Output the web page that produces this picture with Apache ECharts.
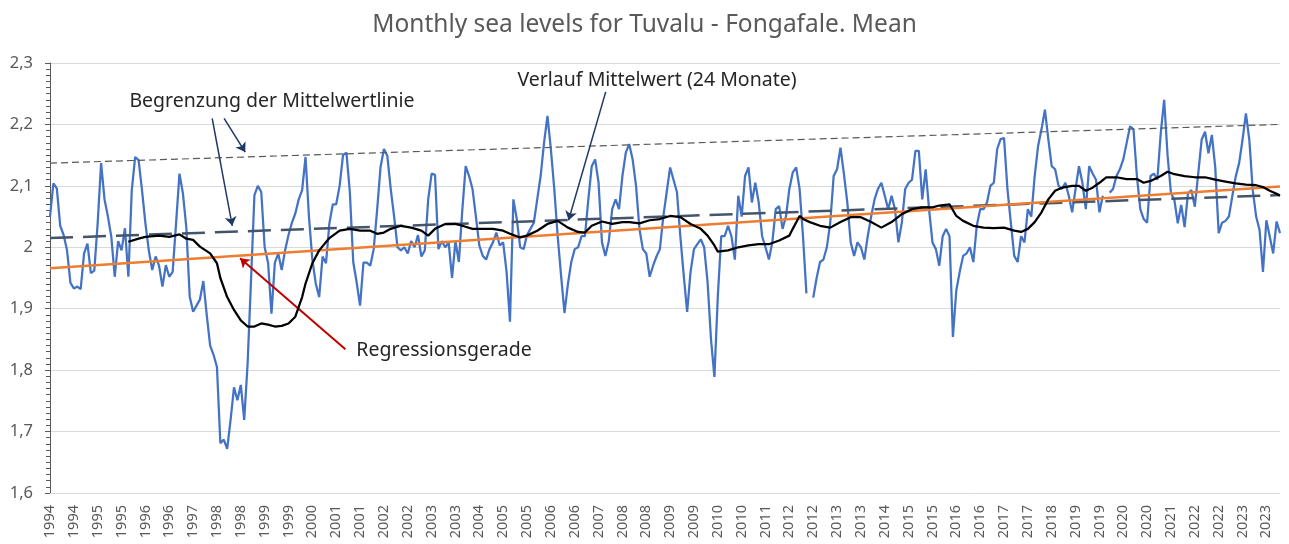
<!DOCTYPE html>
<html>
<head>
<meta charset="utf-8">
<title>Monthly sea levels for Tuvalu - Fongafale</title>
<script src="https://cdn.jsdelivr.net/npm/echarts@6/dist/echarts.min.js"></script>
<style>
  html, body { margin: 0; padding: 0; background: #fff; }
  #chart { width: 1289px; height: 544px; }
</style>
</head>
<body>
<div id="chart"></div>
<script>
// monthly mean sea level (m), Jan 1994 .. Feb 2024
const startYear = 1994;
const seaLevel = [
  // 1994
  2.05, 2.104, 2.096, 2.035, 2.02, 1.995, 1.942, 1.933, 1.936, 1.932, 1.99, 2.006,
  // 1995
  1.958, 1.962, 2.04, 2.137, 2.078, 2.05, 2.017, 1.952, 2.01, 1.995, 2.031, 1.952,
  // 1996
  2.093, 2.147, 2.142, 2.093, 2.039, 1.995, 1.963, 1.985, 1.97, 1.936, 1.971, 1.952,
  // 1997
  1.96, 2.039, 2.12, 2.088, 2.033, 1.92, 1.895, 1.905, 1.915, 1.945, 1.89, 1.84,
  // 1998
  1.825, 1.805, 1.681, 1.687, 1.672, 1.719, 1.772, 1.751, 1.776, 1.719, 1.811, 1.947,
  // 1999
  2.085, 2.1, 2.09, 2.0, 1.975, 1.892, 1.975, 1.99, 1.963, 1.995, 2.02, 2.04,
  // 2000
  2.055, 2.078, 2.093, 2.147, 2.05, 1.98, 1.941, 1.919, 1.985, 1.974, 2.039, 2.07,
  // 2001
  2.07, 2.1, 2.15, 2.154, 2.09, 1.976, 1.943, 1.905, 1.975, 1.975, 1.97, 1.997,
  // 2002
  2.06, 2.13, 2.16, 2.149, 2.095, 2.05, 2.0, 1.995, 2.0, 1.99, 2.01, 2.0,
  // 2003
  2.02, 1.985, 1.995, 2.078, 2.12, 2.118, 1.997, 2.01, 2.0, 2.008, 1.95, 2.01,
  // 2004
  1.976, 2.06, 2.132, 2.116, 2.095, 2.05, 2.003, 1.986, 1.98, 1.997, 2.008, 2.024,
  // 2005
  2.003, 2.008, 1.96, 1.879, 2.078, 2.046, 2.0, 1.997, 2.02, 2.03, 2.04, 2.078,
  // 2006
  2.116, 2.17, 2.214, 2.16, 2.095, 2.018, 1.954, 1.893, 1.94, 1.976, 1.997, 2.0,
  // 2007
  2.018, 2.018, 2.078, 2.132, 2.143, 2.105, 2.008, 1.986, 2.01, 2.062, 2.078, 2.062,
  // 2008
  2.116, 2.154, 2.168, 2.143, 2.1, 2.03, 1.997, 1.99, 1.952, 1.97, 1.985, 1.997,
  // 2009
  2.05, 2.09, 2.13, 2.11, 2.09, 2.018, 1.954, 1.895, 1.96, 1.997, 2.005, 2.013,
  // 2010
  2.0, 1.943, 1.85, 1.789, 1.92, 2.018, 2.018, 2.035, 2.018, 1.98, 2.084, 2.05,
  // 2011
  2.116, 2.13, 2.073, 2.105, 2.073, 2.018, 2.0, 1.98, 2.008, 2.062, 2.067, 2.03,
  // 2012
  2.05, 2.095, 2.122, 2.13, 2.095, 2.018, 1.925, null, 1.918, 1.95, 1.976, 1.98,
  // 2013
  2.0, 2.04, 2.116, 2.127, 2.162, 2.12, 2.073, 2.008, 1.986, 2.008, 2.0, 1.98,
  // 2014
  2.018, 2.05, 2.078, 2.095, 2.105, 2.084, 2.062, 2.084, 2.062, 2.008, 2.04, 2.095,
  // 2015
  2.105, 2.11, 2.157, 2.157, 2.078, 2.127, 2.062, 2.008, 1.997, 1.97, 2.018, 2.03,
  // 2016
  2.018, 1.854, 1.93, 1.96, 1.986, 1.99, 2.0, 1.976, 2.035, 2.062, 2.062, 2.073,
  // 2017
  2.1, 2.105, 2.16, 2.176, 2.178, 2.095, 2.04, 1.986, 1.976, 2.018, 2.008, 2.062,
  // 2018
  2.05, 2.116, 2.165, 2.192, 2.224, 2.176, 2.132, 2.127, 2.1, 2.095, 2.105, 2.084,
  // 2019
  2.057, 2.095, 2.132, 2.105, 2.062, 2.132, 2.12, 2.11, 2.057, 2.084, null, 2.089,
  // 2020
  2.095, 2.116, 2.127, 2.143, 2.17, 2.197, 2.192, 2.116, 2.062, 2.046, 2.04, 2.116,
  // 2021
  2.12, 2.11, 2.186, 2.24, 2.15, 2.088, 2.077, 2.039, 2.069, 2.033, 2.088, 2.093,
  // 2022
  2.066, 2.12, 2.175, 2.188, 2.153, 2.183, 2.13, 2.023, 2.04, 2.043, 2.05, 2.083,
  // 2023
  2.115, 2.137, 2.175, 2.218, 2.175, 2.093, 2.05, 2.028, 1.96, 2.044, 2.017, 1.99,
  // 2024
  2.042, 2.023
];

// 24 month running mean (black line): month index / value
const maMonths = [23, 26, 28, 32, 35, 38, 40, 42, 44, 47, 49, 50, 52, 54, 56, 58, 60, 62, 64, 66,
  68, 70, 72, 73, 74, 75, 77, 79, 82, 85, 88, 91, 94, 96, 98, 100, 103, 106, 109, 111,
  113, 116, 119, 121, 124, 127, 130, 133, 135, 138, 140, 143, 146, 149, 152, 155, 157, 159, 162, 165,
  168, 170, 173, 176, 179, 182, 185, 188, 191, 193, 195, 196, 199, 202, 205, 208, 211, 214, 217, 218,
  220, 221, 223, 226, 229, 232, 235, 238, 241, 244, 247, 250, 253, 256, 259, 261, 264, 266, 268, 271,
  274, 277, 280, 283, 285, 287, 289, 291, 293, 295, 297, 300, 302, 304, 306, 308, 310, 313, 316, 319,
  321, 323, 326, 328, 330, 333, 336, 339, 342, 345, 348, 351, 354, 356, 358, 360, 361];
const maValues = [2.009, 2.014, 2.017, 2.019, 2.017, 2.021, 2.014, 2.012, 2.001, 1.99, 1.974, 1.95, 1.919, 1.898, 1.881, 1.871, 1.871, 1.876, 1.874, 1.871,
  1.872, 1.876, 1.887, 1.903, 1.919, 1.941, 1.974, 1.995, 2.015, 2.027, 2.03, 2.027, 2.027, 2.022, 2.024, 2.03, 2.035, 2.032, 2.027, 2.019,
  2.03, 2.038, 2.038, 2.035, 2.03, 2.03, 2.03, 2.027, 2.022, 2.016, 2.019, 2.027, 2.038, 2.043, 2.032, 2.025, 2.024, 2.035, 2.042, 2.038,
  2.041, 2.041, 2.039, 2.044, 2.046, 2.051, 2.049, 2.038, 2.03, 2.019, 2.003, 1.993, 1.995, 2.0, 2.003, 2.005, 2.005, 2.011, 2.019, 2.03,
  2.051, 2.046, 2.041, 2.035, 2.032, 2.041, 2.049, 2.049, 2.041, 2.032, 2.041, 2.054, 2.062, 2.065, 2.065, 2.068, 2.07, 2.051, 2.043, 2.035,
  2.032, 2.031, 2.032, 2.027, 2.025, 2.03, 2.041, 2.057, 2.078, 2.092, 2.097, 2.1, 2.1, 2.092, 2.097, 2.105, 2.114, 2.114, 2.111, 2.111,
  2.105, 2.108, 2.116, 2.123, 2.119, 2.116, 2.114, 2.114, 2.11, 2.107, 2.104, 2.102, 2.101, 2.098, 2.092, 2.087, 2.084];

// straight lines: value at first and last month
const regression = [1.966, 2.099];
const upperLimit = [2.137, 2.200];
const lowerLimit = [2.015, 2.085];

const yTicks = [1.6, 1.7, 1.8, 1.9, 2.0, 2.1, 2.2, 2.3];

const lastMonth = seaLevel.length - 1;
const monthLabels = seaLevel.map((v, i) => String(startYear + Math.floor(i / 12)));

const chart = echarts.init(document.getElementById('chart'));
const font = '"Noto Sans", "Open Sans", sans-serif';
const navy = '#203864';
const noteFont = '19.5px ' + font;

const option = {
  animation: false,
  backgroundColor: '#ffffff',
  title: {
    text: 'Monthly sea levels for Tuvalu - Fongafale. Mean',
    left: 'center',
    top: 8,
    textStyle: { fontFamily: font, fontSize: 24.5, fontWeight: 'normal', color: '#595959' }
  },
  grid: { left: 50, right: 9, top: 63, bottom: 51 },
  xAxis: [
    {
      type: 'category',
      data: monthLabels,
      boundaryGap: false,
      axisLine: { lineStyle: { color: '#d9d9d9' } },
      axisTick: { show: false },
      splitLine: { show: false },
      axisLabel: { interval: 6, rotate: 90, color: '#595959', fontSize: 14.5, fontFamily: font, margin: 12 }
    },
    { type: 'value', min: 0, max: lastMonth, show: false }
  ],
  yAxis: {
    type: 'value',
    min: yTicks[0],
    max: yTicks[yTicks.length - 1],
    interval: 0.1,
    axisLine: { show: true, lineStyle: { color: '#595959' } },
    axisTick: { show: true, length: 5, lineStyle: { color: '#595959' } },
    minorTick: { show: true, splitNumber: 10, length: 4, lineStyle: { color: '#595959' } },
    splitLine: { lineStyle: { color: '#d9d9d9' } },
    axisLabel: {
      color: '#595959', fontSize: 16.5, fontFamily: font, margin: 17,
      formatter: v => String(+v.toFixed(1)).replace('.', ',')
    }
  },
  series: [
    {
      name: 'Monatsmittel',
      type: 'line',
      data: seaLevel,
      showSymbol: false,
      connectNulls: false,
      lineStyle: { color: '#4472C4', width: 2.25 },
      z: 2
    },
    {
      name: 'obere Begrenzung',
      type: 'line',
      xAxisIndex: 1,
      data: [[0, upperLimit[0]], [lastMonth, upperLimit[1]]],
      showSymbol: false,
      lineStyle: { color: '#595959', width: 1.2, type: [7, 4] },
      z: 3
    },
    {
      name: 'untere Begrenzung',
      type: 'line',
      xAxisIndex: 1,
      data: [[0, lowerLimit[0]], [lastMonth, lowerLimit[1]]],
      showSymbol: false,
      lineStyle: { color: '#44546A', width: 2.5, type: [23, 10] },
      z: 3
    },
    {
      name: 'Regressionsgerade',
      type: 'line',
      xAxisIndex: 1,
      data: [[0, regression[0]], [lastMonth, regression[1]]],
      showSymbol: false,
      lineStyle: { color: '#ED7D31', width: 2.5 },
      z: 4,
      markLine: {
        silent: true,
        symbol: ['none', 'arrow'],
        symbolSize: 9,
        label: { show: false },
        lineStyle: { type: 'solid', width: 1.5, color: navy },
        data: [
          [{ coord: [47.6, 2.210] }, { coord: [53.5, 2.035] }],
          [{ coord: [51.1, 2.210] }, { coord: [57.3, 2.155] }],
          [{ coord: [163.1, 2.253] }, { coord: [152.2, 2.044] }],
          [{ coord: [86.7, 1.834], lineStyle: { color: '#C00000', width: 2 } }, { coord: [55.8, 1.982] }]
        ]
      }
    },
    {
      name: 'Verlauf Mittelwert (24 Monate)',
      type: 'line',
      xAxisIndex: 1,
      data: maMonths.map((m, k) => [m, maValues[k]]),
      showSymbol: false,
      lineStyle: { color: '#000000', width: 2.25 },
      z: 5
    }
  ],
  graphic: [
    {
      type: 'text', x: 272, y: 101,
      style: { text: 'Begrenzung der Mittelwertlinie', font: noteFont, fill: '#262626',
        align: 'center', verticalAlign: 'middle', textAlign: 'center', textVerticalAlign: 'middle' }
    },
    {
      type: 'text', x: 657, y: 80,
      style: { text: 'Verlauf Mittelwert (24 Monate)', font: noteFont, fill: '#262626',
        align: 'center', verticalAlign: 'middle', textAlign: 'center', textVerticalAlign: 'middle' }
    },
    {
      type: 'text', x: 444, y: 350,
      style: { text: 'Regressionsgerade', font: noteFont, fill: '#262626',
        align: 'center', verticalAlign: 'middle', textAlign: 'center', textVerticalAlign: 'middle' }
    }
  ]
};

chart.setOption(option);
</script>
</body>
</html>
